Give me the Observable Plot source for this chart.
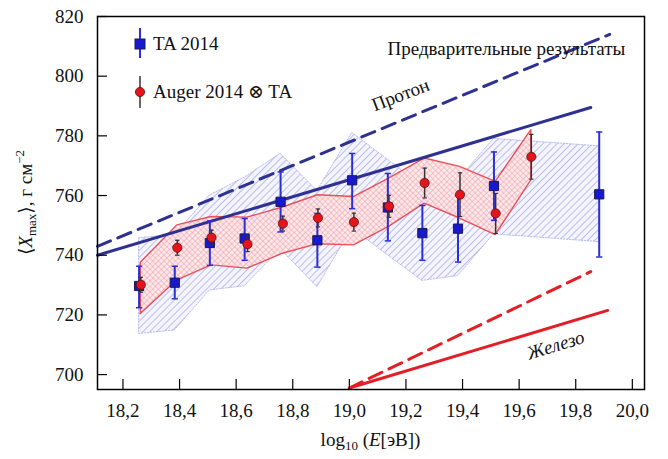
<!DOCTYPE html>
<html><head><meta charset="utf-8">
<script src="https://cdn.jsdelivr.net/npm/d3@7"></script>
<script src="https://cdn.jsdelivr.net/npm/@observablehq/plot@0.6"></script>
<style>
body{margin:0;background:#fff;}
</style></head><body><div id="chart"></div>
<script>
// TA 2014
const taEnergy   = [18.257,18.383,18.507,18.630,18.757,18.887,19.010,19.136,19.258,19.384,19.511,19.883];
const taXmax     = [729.7,730.8,744.1,745.6,757.9,745.0,765.1,756.0,747.4,748.9,763.2,760.4];
const taErrHigh  = [736.3,736.3,751.5,752.3,767.9,754.0,774.1,767.4,756.7,760.0,774.6,781.3];
const taErrLow   = [722.4,725.4,736.6,738.3,747.8,736.0,755.6,744.8,738.3,737.7,751.7,739.4];
const taSysHigh  = [745.7,746.8,760.0,766.0,774.0,761.5,781.0,772.0,763.4,765.0,779.0,776.5];
const taSysLow   = [713.6,714.8,728.2,729.6,742.0,729.3,749.0,740.0,731.4,733.0,747.0,744.4];
// Auger 2014 (x) TA
const augerEnergy  = [18.263,18.392,18.513,18.640,18.765,18.889,19.016,19.140,19.266,19.391,19.517,19.643];
const augerXmax    = [730.1,742.5,745.9,743.7,750.6,752.5,751.1,756.4,764.2,760.3,754.0,773.0];
const augerErrHigh = [732.6,745.0,748.4,746.2,753.1,755.5,754.1,760.1,769.2,767.6,760.7,780.5];
const augerErrLow  = [727.6,740.0,743.4,741.2,748.1,749.5,748.1,752.7,759.2,753.0,747.3,765.5];
const augerSysHigh = [737.5,750.0,752.8,752.6,756.0,760.1,759.5,765.7,772.4,769.6,764.6,781.9];
const augerSysLow  = [720.3,731.6,736.6,735.5,740.5,743.7,743.3,749.5,757.3,752.3,746.7,765.1];
// model lines
const protonPrelimEnergy = [18.11, 19.92];
const protonPrelimXmax   = [743.0, 814.0];
const protonEnergy       = [18.11, 19.853];
const protonXmax         = [740.0, 789.5];
const ironPrelimEnergy   = [19.0, 19.853];
const ironPrelimXmax     = [695.5, 734.5];
const ironEnergy         = [19.0, 19.913];
const ironXmax           = [695.5, 721.5];
// ticks
const xTicks = [18.2,18.4,18.6,18.8,19.0,19.2,19.4,19.6,19.8,20.0];
const yTicks = [700,720,740,760,780,800,820];

const ta = taEnergy.map((e,i)=>({e, v:taXmax[i], hi:taErrHigh[i], lo:taErrLow[i], sh:taSysHigh[i], sl:taSysLow[i]}));
const au = augerEnergy.map((e,i)=>({e, v:augerXmax[i], hi:augerErrHigh[i], lo:augerErrLow[i], sh:augerSysHigh[i], sl:augerSysLow[i]}));
const pair = (xs, ys) => xs.map((x,i)=>({x, y:ys[i]}));

const capSymbol = {draw(ctx, size){ const w = Math.sqrt(size)/2; ctx.moveTo(-w,0); ctx.lineTo(w,0); }};

const FONT = '"Liberation Serif","DejaVu Serif",serif';
const W = 668, H = 459, mL = 97, mR = 24, mT = 16, mB = 70;
const fw = W - mL - mR, fh = H - mT - mB;
const xf = d => d.toFixed(1).replace(".", ",");

const plot = Plot.plot({
  width: W, height: H,
  marginLeft: mL, marginRight: mR, marginTop: mT, marginBottom: mB,
  style: {fontFamily: FONT, background: "#fff"},
  x: {domain: [18.11, 20.043]},
  y: {domain: [695, 820]},
  marks: [
    Plot.areaY(ta, {x:"e", y1:"sl", y2:"sh", fill:"#8a8de0", stroke:"#a9acea", strokeWidth:0.8, strokeDasharray:"1.5,1.5"}),
    Plot.areaY(au, {x:"e", y1:"sl", y2:"sh", fill:"#f0a0a8", stroke:"#e8505a", strokeWidth:1.4}),
    Plot.line(pair(protonPrelimEnergy, protonPrelimXmax), {x:"x", y:"y", stroke:"#2e3192", strokeWidth:3, strokeDasharray:"14,8"}),
    Plot.line(pair(protonEnergy, protonXmax), {x:"x", y:"y", stroke:"#2e3192", strokeWidth:3}),
    Plot.line(pair(ironPrelimEnergy, ironPrelimXmax), {x:"x", y:"y", stroke:"#e41e26", strokeWidth:3, strokeDasharray:"14,8"}),
    Plot.line(pair(ironEnergy, ironXmax), {x:"x", y:"y", stroke:"#e41e26", strokeWidth:3}),
    Plot.ruleX(ta, {x:"e", y1:"lo", y2:"hi", stroke:"#2a2ed6", strokeWidth:2}),
    Plot.dot(ta, {x:"e", y:"hi", symbol:capSymbol, r:3.5, stroke:"#2a2ed6", strokeWidth:1.5, fill:"none"}),
    Plot.dot(ta, {x:"e", y:"lo", symbol:capSymbol, r:3.5, stroke:"#2a2ed6", strokeWidth:1.5, fill:"none"}),
    Plot.dot(ta, {x:"e", y:"v", symbol:"square", r:5.2, fill:"#1818d0", stroke:"#1a1a50", strokeWidth:1}),
    Plot.ruleX(au, {x:"e", y1:"lo", y2:"hi", stroke:"#333", strokeWidth:1.5}),
    Plot.dot(au, {x:"e", y:"hi", symbol:capSymbol, r:2.5, stroke:"#333", strokeWidth:1.2, fill:"none"}),
    Plot.dot(au, {x:"e", y:"lo", symbol:capSymbol, r:2.5, stroke:"#333", strokeWidth:1.2, fill:"none"}),
    Plot.dot(au, {x:"e", y:"v", r:4.6, fill:"#e4141c", stroke:"#5a1010", strokeWidth:0.8}),
    Plot.text(["Протон"], {x:19.181, y:793.7, rotate:-21, fontSize:19, fontFamily:FONT, fill:"#111"}),
    Plot.text(["Железо"], {x:19.729, y:709.8, rotate:-17, fontSize:19, fontStyle:"italic", fontFamily:FONT, fill:"#111"}),
    Plot.text(["Предварительные результаты"], {x:19.555, y:809.3, fontSize:19, fontFamily:FONT, fill:"#111"}),
    Plot.tickX(xTicks, {x:d=>d, insetTop: fh - 10, stroke:"#000", strokeWidth:1.2}),
    Plot.tickY(yTicks, {y:d=>d, insetRight: fw - 10, stroke:"#000", strokeWidth:1.2}),
    Plot.axisX(xTicks, {tickSize:0, tickPadding:14, tickFormat:xf, fontSize:19, fontFamily:FONT, fill:"#111", label:null}),
    Plot.axisY(yTicks, {tickSize:0, tickPadding:14, fontSize:19, fontFamily:FONT, fill:"#111", label:null}),
    Plot.frame({stroke:"#000", strokeWidth:1.5})
  ]
});
document.getElementById("chart").appendChild(plot);

const svg = d3.select(plot);
svg.attr("font-family", FONT);
const defs = svg.insert("defs", ":first-child");
const bp = defs.append("pattern").attr("id","blueHatch").attr("patternUnits","userSpaceOnUse")
  .attr("width",5).attr("height",5).attr("patternTransform","rotate(45)");
bp.append("rect").attr("width",5).attr("height",5).attr("fill","#f4f4fd");
bp.append("line").attr("x1",0).attr("y1",0).attr("x2",0).attr("y2",5).attr("stroke","#8e91dc").attr("stroke-width",1.1);
const rp = defs.append("pattern").attr("id","redCross").attr("patternUnits","userSpaceOnUse")
  .attr("width",4).attr("height",4).attr("patternTransform","rotate(45)");
rp.append("rect").attr("width",4).attr("height",4).attr("fill","#fde8ea");
rp.append("line").attr("x1",0).attr("y1",0).attr("x2",0).attr("y2",4).attr("stroke","#eb7f88").attr("stroke-width",0.8);
rp.append("line").attr("x1",0).attr("y1",0).attr("x2",4).attr("y2",0).attr("stroke","#eb7f88").attr("stroke-width",0.8);
const areas = svg.selectAll("g[aria-label='area']").nodes();
d3.select(areas[0]).attr("fill","url(#blueHatch)").selectAll("path").attr("fill","url(#blueHatch)");
d3.select(areas[1]).attr("fill","url(#redCross)").attr("fill-opacity",0.9).selectAll("path").attr("fill","url(#redCross)");

// axis titles
const xt = svg.append("text").attr("x", mL + fw/2).attr("y", 446).attr("text-anchor","middle")
  .attr("font-size",19).attr("fill","#111");
xt.append("tspan").text("log");
xt.append("tspan").attr("font-size",13).attr("dy",4).text("10");
xt.append("tspan").attr("dy",-4).text(" (");
xt.append("tspan").attr("font-style","italic").text("E");
xt.append("tspan").text("[эВ])");

const yt = svg.append("text").attr("transform","translate(32,"+(mT+fh/2)+") rotate(-90)")
  .attr("text-anchor","middle").attr("font-size",19).attr("fill","#111");
yt.append("tspan").text("⟨");
yt.append("tspan").attr("font-style","italic").text("X");
yt.append("tspan").attr("font-size",13).attr("dy",4).text("max");
yt.append("tspan").attr("dy",-4).text("⟩, г см");
yt.append("tspan").attr("font-size",13).attr("dy",-8).text("−2");

// legend
const lg = svg.append("g").attr("text-anchor","start");
lg.append("line").attr("x1",140).attr("x2",140).attr("y1",28).attr("y2",58).attr("stroke","#2a2ed6").attr("stroke-width",2);
lg.append("rect").attr("x",135).attr("y",39).attr("width",10).attr("height",10).attr("fill","#1818d0").attr("stroke","#1a1a50");
lg.append("text").attr("x",153).attr("y",50).attr("text-anchor","start").attr("font-size",19).attr("fill","#111").text("TA 2014");
lg.append("line").attr("x1",140).attr("x2",140).attr("y1",76).attr("y2",108).attr("stroke","#555").attr("stroke-width",1.8);
lg.append("circle").attr("cx",140).attr("cy",92).attr("r",4.6).attr("fill","#e4141c").attr("stroke","#5a1010").attr("stroke-width",0.8);
lg.append("text").attr("x",153).attr("y",98).attr("text-anchor","start").attr("font-size",19).attr("fill","#111").text("Auger 2014 ⊗ TA");
</script></body></html>
